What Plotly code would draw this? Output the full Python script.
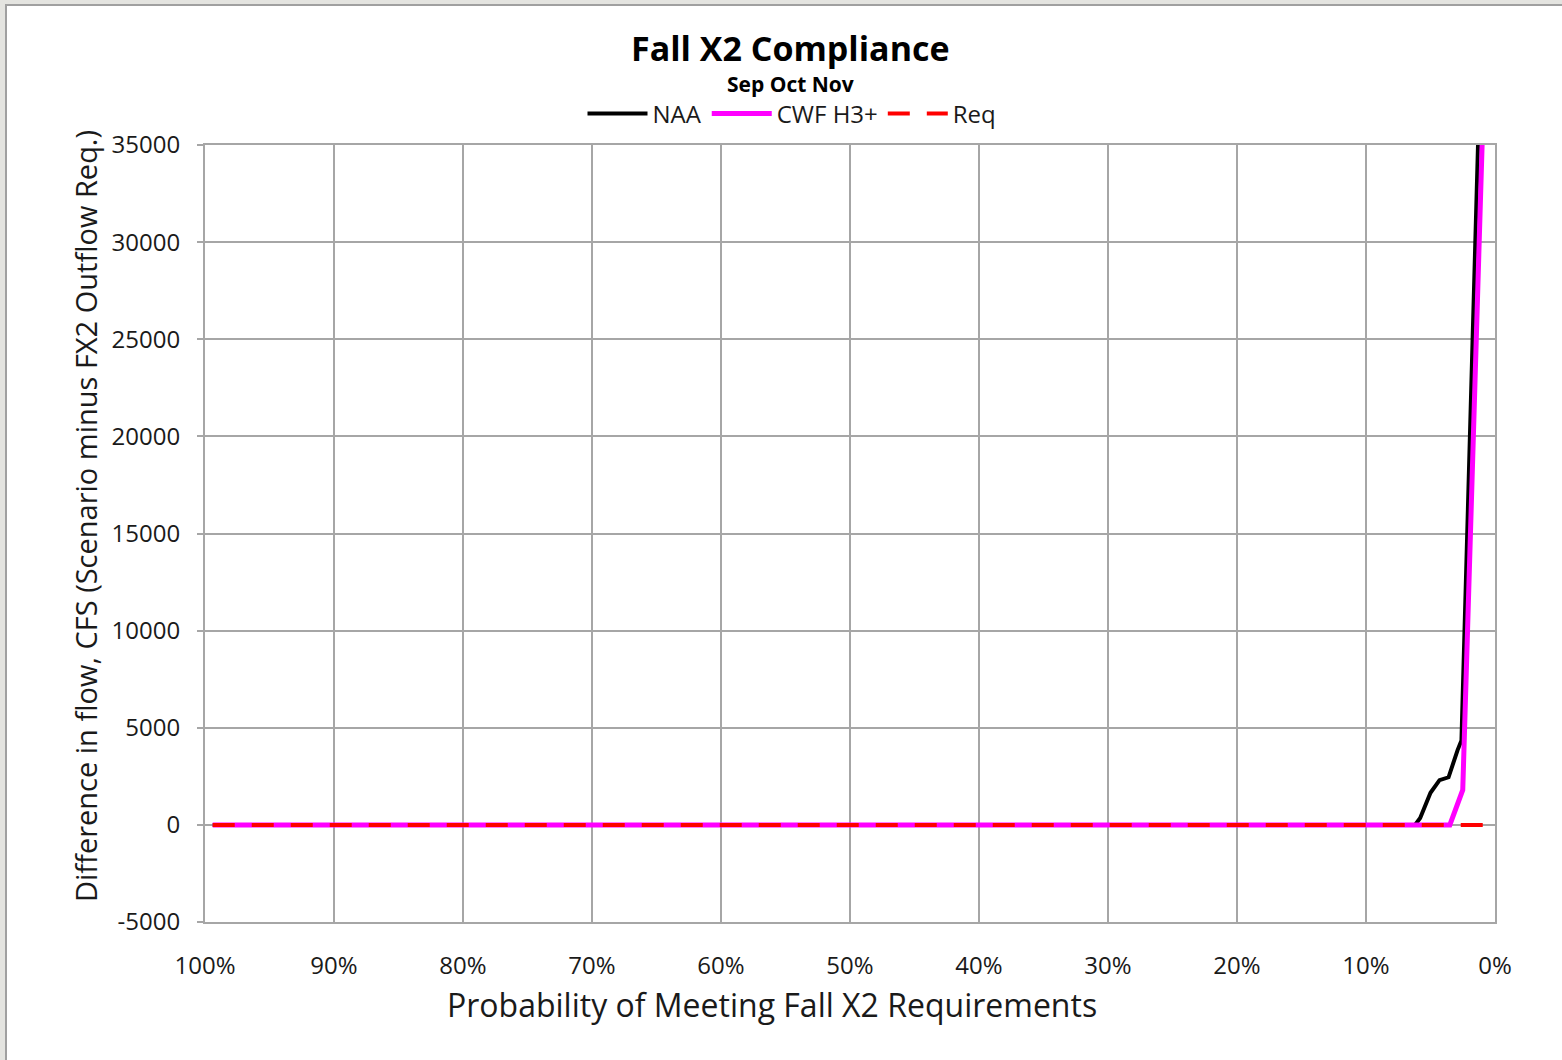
import plotly.graph_objects as go

# exceedance probability (%) and difference in flow (cfs)
naa_prob = [99.4, 6.5, 6.2, 5.8, 5.0, 4.3, 3.6, 2.9, 2.6, 1.2]
naa_flow = [0, 0, 0, 350, 1650, 2300, 2450, 3850, 4350, 37800]

cwf_prob = [99.4, 3.5, 2.5, 0.9]
cwf_flow = [0, 0, 1800, 37200]

req_prob = [99.4, 0.0]
req_flow = [0, 0]

x_ticks = [100, 90, 80, 70, 60, 50, 40, 30, 20, 10, 0]
x_labels = [f"{v}%" for v in x_ticks]
y_ticks = [-5000, 0, 5000, 10000, 15000, 20000, 25000, 30000, 35000]
y_labels = [str(v) for v in y_ticks]

FONT = "Open Sans"
GRID = "#a6a6a6"

# plot area in pixels
L, R, T, B = 205, 1495, 145, 922
W, H = 1562, 1060


def px_x(p):
    return (p - L) / (R - L)


def px_y(p):
    return (B - p) / (B - T)


def label(text, x, y, size, angle=0, bold=False):
    return dict(text=f"<b>{text}</b>" if bold else text, xref="paper", yref="paper",
                x=px_x(x), y=px_y(y), xanchor="center", yanchor="middle",
                textangle=angle, showarrow=False,
                font=dict(size=size, family=FONT, color="black" if bold else "#1a1a1a"))


fig = go.Figure()
fig.add_trace(go.Scatter(x=naa_prob, y=naa_flow, mode="lines", name="NAA",
                         line=dict(color="black", width=4)))
fig.add_trace(go.Scatter(x=cwf_prob, y=cwf_flow, mode="lines", name="CWF H3+",
                         line=dict(color="#ff00ff", width=5)))
fig.add_trace(go.Scatter(x=req_prob, y=req_flow, mode="lines", name="Req",
                         line=dict(color="#ff0000", width=4, dash="22px,17px")))

fig.update_layout(
    width=W, height=H,
    margin=dict(l=L, r=W - R, t=T, b=H - B),
    paper_bgcolor="#e4e4e0",
    plot_bgcolor="white",
    font=dict(family=FONT, color="#1a1a1a", size=22),
    showlegend=True,
    legend=dict(orientation="h", x=px_x(792), y=px_y(114), xanchor="center", yanchor="middle",
                font=dict(size=24, family=FONT), bgcolor="rgba(0,0,0,0)",
                itemwidth=60, tracegroupgap=0),
    shapes=[dict(type="rect", xref="paper", yref="paper", layer="below",
                 x0=px_x(6), x1=px_x(W + 10), y0=px_y(H + 10), y1=px_y(5),
                 fillcolor="white", line=dict(color="#a0a0a0", width=2))],
    annotations=[
        label("Fall X2 Compliance", 790, 48, 34, bold=True),
        label("Sep Oct Nov", 790, 84, 21, bold=True),
        label("Probability of Meeting Fall X2 Requirements", 772, 1004, 32),
        label("Difference in flow, CFS (Scenario minus FX2 Outflow Req.)", 85, 516, 29, angle=-90),
    ],
)

fig.update_xaxes(
    range=[100, 0], tickvals=x_ticks, ticktext=x_labels,
    showgrid=True, gridcolor=GRID, gridwidth=1.5, zeroline=False,
    showline=True, linecolor=GRID, linewidth=2, mirror=True,
    ticks="", ticklabelstandoff=21, tickfont=dict(size=24),
)
fig.update_yaxes(
    range=[-5000, 35000], tickvals=y_ticks, ticktext=y_labels,
    showgrid=True, gridcolor=GRID, gridwidth=1.5, zeroline=False,
    showline=True, linecolor=GRID, linewidth=2, mirror=True,
    ticks="outside", ticklen=6, tickcolor=GRID, tickwidth=1.5,
    ticklabelstandoff=12, tickfont=dict(size=24),
)

fig.write_html("out.html", config={"displayModeBar": False},
               post_script="document.body.style.margin='0';")
